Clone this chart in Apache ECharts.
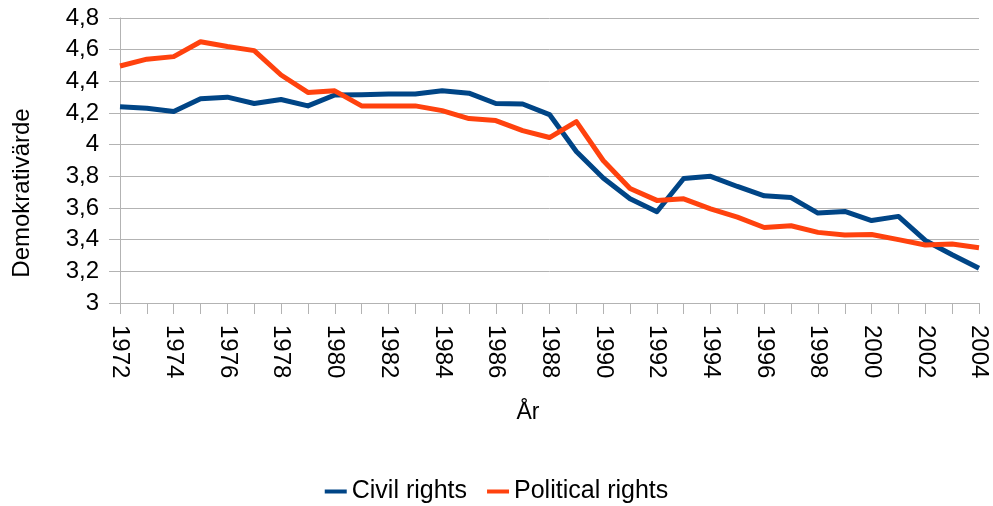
<!DOCTYPE html>
<html>
<head>
<meta charset="utf-8">
<script src="https://cdn.jsdelivr.net/npm/echarts@6/dist/echarts.min.js"></script>
<style>
html,body{margin:0;padding:0;background:#fff;}
#chart{width:993px;height:506px;}
</style>
</head>
<body>
<div id="chart"></div>
<script>
var years = ['1972','1973','1974','1975','1976','1977','1978','1979','1980','1981','1982','1983','1984','1985','1986','1987','1988','1989','1990','1991','1992','1993','1994','1995','1996','1997','1998','1999','2000','2001','2002','2003','2004'];
var civilRights = [4.24,4.23,4.21,4.29,4.30,4.26,4.285,4.245,4.314,4.316,4.32,4.32,4.34,4.325,4.26,4.257,4.19,3.957,3.79,3.658,3.576,3.786,3.80,3.736,3.677,3.666,3.568,3.578,3.521,3.547,3.395,3.305,3.22];
var politicalRights = [4.497,4.54,4.556,4.65,4.62,4.594,4.44,4.33,4.34,4.245,4.245,4.245,4.215,4.165,4.152,4.089,4.045,4.146,3.90,3.723,3.648,3.658,3.595,3.542,3.477,3.488,3.446,3.429,3.433,3.40,3.366,3.372,3.349];
var seriesNames = ['Civil rights','Political rights'];
var yAxisTitle = 'Demokrativärde';
var xAxisTitle = 'År';

var FONT = '"Liberation Sans", Arial, sans-serif';
var chart = echarts.init(document.getElementById('chart'), null, {renderer:'canvas'});
chart.setOption({
  animation: false,
  backgroundColor: '#ffffff',
  textStyle: {fontFamily: FONT, color: '#000'},
  grid: {left: 120, right: 14, top: 18, bottom: 203, containLabel: false},
  legend: {
    data: seriesNames,
    left: 'center',
    top: 474,
    icon: 'rect',
    itemWidth: 22,
    itemHeight: 4,
    itemGap: 20,
    textStyle: {fontFamily: FONT, fontSize: 25, color: '#000'}
  },
  xAxis: {
    type: 'category',
    data: years,
    boundaryGap: false,
    axisLine: {lineStyle: {color: '#b3b3b3', width: 1}},
    axisTick: {show: true, interval: 0, length: 11, lineStyle: {color: '#b3b3b3'}},
    axisLabel: {interval: 1, rotate: -90, margin: 22, fontSize: 24, color: '#000', fontFamily: FONT},
    splitLine: {show: false}
  },
  yAxis: {
    type: 'value',
    min: 3,
    max: 4.8,
    interval: 0.2,
    axisLine: {show: true, lineStyle: {color: '#b3b3b3', width: 1}},
    axisTick: {show: true, length: 11, lineStyle: {color: '#b3b3b3'}},
    axisLabel: {
      margin: 21, fontSize: 24, color: '#000', fontFamily: FONT,
      formatter: function (v) { return String(Math.round(v * 10) / 10).replace('.', ','); }
    },
    splitLine: {show: true, lineStyle: {color: '#b3b3b3', width: 1}}
  },
  graphic: [
    {type: 'text', x: 22, y: 193, rotation: Math.PI / 2,
     style: {text: yAxisTitle, font: '24px ' + FONT, fill: '#000', textAlign: 'center', textVerticalAlign: 'middle'}},
    {type: 'text', x: 528, y: 413,
     style: {text: xAxisTitle, font: '23px ' + FONT, fill: '#000', textAlign: 'center', textVerticalAlign: 'middle'}}
  ],
  series: [
    {name: seriesNames[0], type: 'line', data: civilRights, symbol: 'none', color: '#004586',
     lineStyle: {width: 5, color: '#004586', join: 'round'}},
    {name: seriesNames[1], type: 'line', data: politicalRights, symbol: 'none', color: '#ff420e',
     lineStyle: {width: 5, color: '#ff420e', join: 'round'}}
  ]
});
</script>
</body>
</html>
